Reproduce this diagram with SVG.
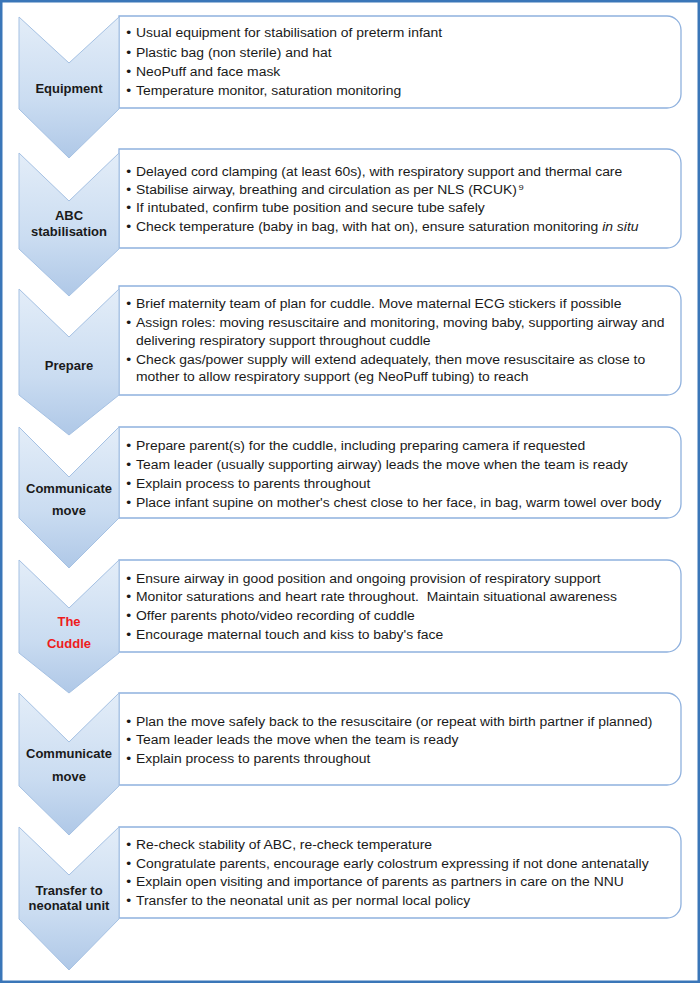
<svg xmlns="http://www.w3.org/2000/svg" width="700" height="984" viewBox="0 0 700 984">
<defs>
<linearGradient id="chev" x1="0" y1="0" x2="0" y2="1">
<stop offset="0" stop-color="#e3edf8"/>
<stop offset="0.6" stop-color="#cadcf1"/>
<stop offset="1" stop-color="#afc8e7"/>
</linearGradient>
<style>
.frame{fill:#ffffff;stroke:#3a76b8;stroke-width:2.5}
.chev{fill:url(#chev);stroke:#a5c1e3;stroke-width:1}
.box{fill:#ffffff;stroke:#8fb1de;stroke-width:1.3}
.lbl{font-family:"Liberation Sans",Arial,sans-serif;font-size:13px;font-weight:bold;fill:#1a1a1a;text-anchor:middle}
.red{fill:#ee1c1c}
.b{font-family:"Liberation Sans",Arial,sans-serif;font-size:12px;fill:#1a1a1a}
.pre{white-space:pre}
</style>
</defs>
<rect class="frame" x="1.25" y="1.25" width="697.5" height="980.5"/>
<g id="connectors"/>

<g id="equipment">
<path class="box" d="M119,16 H667 A14,14 0 0 1 681,30 V94 A14,14 0 0 1 667,108 H119 Z"/>
<path class="chev" d="M19,17 L69,63 L119,17 L119,109 L69,158 L19,109 Z"/>
<text class="lbl" x="69" y="93">Equipment</text>
<g transform="translate(136,0) scale(1.16,1)">
<text class="b" x="-8.5" y="37">•</text><text class="b" x="0" y="37">Usual equipment for stabilisation of preterm infant</text>
<text class="b" x="-8.5" y="57">•</text><text class="b" x="0" y="57">Plastic bag (non sterile) and hat</text>
<text class="b" x="-8.5" y="76">•</text><text class="b" x="0" y="76">NeoPuff and face mask</text>
<text class="b" x="-8.5" y="95">•</text><text class="b" x="0" y="95">Temperature monitor, saturation monitoring</text>
</g>
</g>

<g id="abc">
<path class="box" d="M119,149 H667 A14,14 0 0 1 681,163 V234 A14,14 0 0 1 667,248 H119 Z"/>
<path class="chev" d="M19,153 L69,201 L119,153 L119,249 L69,296 L19,249 Z"/>
<text class="lbl" x="69" y="220">ABC</text>
<text class="lbl" x="69" y="236">stabilisation</text>
<g transform="translate(136,0) scale(1.16,1)">
<text class="b" x="-8.5" y="176">•</text><text class="b" x="0" y="176">Delayed cord clamping (at least 60s), with respiratory support and thermal care</text>
<text class="b" x="-8.5" y="194">•</text><text class="b" x="0" y="194">Stabilise airway, breathing and circulation as per NLS (RCUK)<tspan font-size="8" dx="1.5" dy="-4">9</tspan></text>
<text class="b" x="-8.5" y="212">•</text><text class="b" x="0" y="212">If intubated, confirm tube position and secure tube safely</text>
<text class="b" x="-8.5" y="231">•</text><text class="b" x="0" y="231">Check temperature (baby in bag, with hat on), ensure saturation monitoring <tspan font-style="italic">in situ</tspan></text>
</g>
</g>

<g id="prepare">
<path class="box" d="M119,286 H667 A14,14 0 0 1 681,300 V381 A14,14 0 0 1 667,395 H119 Z"/>
<path class="chev" d="M19,289 L69,337 L119,289 L119,395 L69,435 L19,395 Z"/>
<text class="lbl" x="69" y="370">Prepare</text>
<g transform="translate(136,0) scale(1.16,1)">
<text class="b" x="-8.5" y="308">•</text><text class="b" x="0" y="308">Brief maternity team of plan for cuddle. Move maternal ECG stickers if possible</text>
<text class="b" x="-8.5" y="327">•</text><text class="b" x="0" y="327">Assign roles: moving resuscitaire and monitoring, moving baby, supporting airway and</text>
<text class="b" x="0" y="345">delivering respiratory support throughout cuddle</text>
<text class="b" x="-8.5" y="364">•</text><text class="b" x="0" y="364">Check gas/power supply will extend adequately, then move resuscitaire as close to</text>
<text class="b" x="0" y="381">mother to allow respiratory support (eg NeoPuff tubing) to reach</text>
</g>
</g>

<g id="communicate-move-1">
<path class="box" d="M119,427 H667 A14,14 0 0 1 681,441 V504 A14,14 0 0 1 667,518 H119 Z"/>
<path class="chev" d="M19,427 L69,477 L119,427 L119,518 L69,568 L19,518 Z"/>
<text class="lbl" x="69" y="493">Communicate</text>
<text class="lbl" x="69" y="515">move</text>
<g transform="translate(136,0) scale(1.16,1)">
<text class="b" x="-8.5" y="450">•</text><text class="b" x="0" y="450">Prepare parent(s) for the cuddle, including preparing camera if requested</text>
<text class="b" x="-8.5" y="469">•</text><text class="b" x="0" y="469">Team leader (usually supporting airway) leads the move when the team is ready</text>
<text class="b" x="-8.5" y="488">•</text><text class="b" x="0" y="488">Explain process to parents throughout</text>
<text class="b" x="-8.5" y="507">•</text><text class="b" x="0" y="507">Place infant supine on mother's chest close to her face, in bag, warm towel over body</text>
</g>
</g>

<g id="the-cuddle">
<path class="box" d="M119,560 H667 A14,14 0 0 1 681,574 V638 A14,14 0 0 1 667,652 H119 Z"/>
<path class="chev" d="M19,560 L69,608 L119,560 L119,653 L69,693 L19,653 Z"/>
<text class="lbl red" x="69" y="626">The</text>
<text class="lbl red" x="69" y="648">Cuddle</text>
<g transform="translate(136,0) scale(1.16,1)">
<text class="b" x="-8.5" y="583">•</text><text class="b" x="0" y="583">Ensure airway in good position and ongoing provision of respiratory support</text>
<text class="b" x="-8.5" y="601">•</text><text class="b pre" x="0" y="601">Monitor saturations and heart rate throughout.  Maintain situational awareness</text>
<text class="b" x="-8.5" y="620">•</text><text class="b" x="0" y="620">Offer parents photo/video recording of cuddle</text>
<text class="b" x="-8.5" y="639">•</text><text class="b" x="0" y="639">Encourage maternal touch and kiss to baby's face</text>
</g>
</g>

<g id="communicate-move-2">
<path class="box" d="M119,693 H667 A14,14 0 0 1 681,707 V771 A14,14 0 0 1 667,785 H119 Z"/>
<path class="chev" d="M19,693 L69,742 L119,693 L119,786 L69,835 L19,786 Z"/>
<text class="lbl" x="69" y="758">Communicate</text>
<text class="lbl" x="69" y="781">move</text>
<g transform="translate(136,0) scale(1.16,1)">
<text class="b" x="-8.5" y="726">•</text><text class="b" x="0" y="726">Plan the move safely back to the resuscitaire (or repeat with birth partner if planned)</text>
<text class="b" x="-8.5" y="744">•</text><text class="b" x="0" y="744">Team leader leads the move when the team is ready</text>
<text class="b" x="-8.5" y="763">•</text><text class="b" x="0" y="763">Explain process to parents throughout</text>
</g>
</g>

<g id="transfer">
<path class="box" d="M119,827 H667 A14,14 0 0 1 681,841 V904 A14,14 0 0 1 667,918 H119 Z"/>
<path class="chev" d="M19,827 L69,875 L119,827 L119,919 L69,970 L19,919 Z"/>
<text class="lbl" x="69" y="895">Transfer to</text>
<text class="lbl" x="69" y="910">neonatal unit</text>
<g transform="translate(136,0) scale(1.16,1)">
<text class="b" x="-8.5" y="849">•</text><text class="b" x="0" y="849">Re-check stability of ABC, re-check temperature</text>
<text class="b" x="-8.5" y="868">•</text><text class="b" x="0" y="868">Congratulate parents, encourage early colostrum expressing if not done antenatally</text>
<text class="b" x="-8.5" y="886">•</text><text class="b" x="0" y="886">Explain open visiting and importance of parents as partners in care on the NNU</text>
<text class="b" x="-8.5" y="905">•</text><text class="b" x="0" y="905">Transfer to the neonatal unit as per normal local policy</text>
</g>
</g>
</svg>
